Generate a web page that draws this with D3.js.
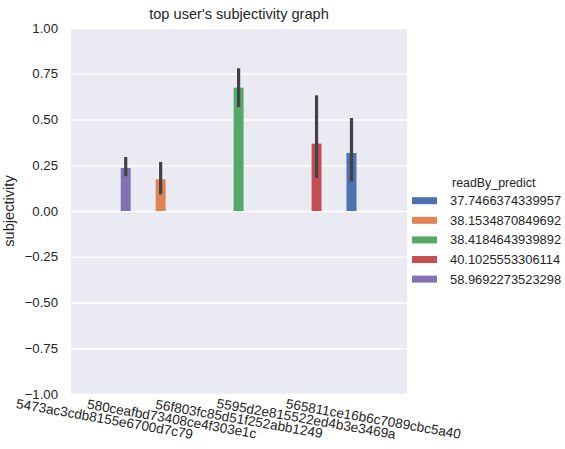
<!DOCTYPE html>
<html>
<head>
<meta charset="utf-8">
<script src="https://cdn.jsdelivr.net/npm/d3@7"></script>
<style>
  html, body { margin: 0; padding: 0; background: #ffffff; }
  svg { display: block; }
  text { font-family: "Liberation Sans", Arial, sans-serif; fill: #262626; }
</style>
</head>
<body>
<svg id="chart" width="565" height="449"></svg>
<script>
// User ids along the x axis
const users = [
  "5473ac3cdb8155e6700d7c79",
  "580ceafbd73408ce4f303e1c",
  "56f803fc85d51f252abb1249",
  "5595d2e815522ed4b3e3469a",
  "565811ce16b6c7089cbc5a40"
];
// Hue levels (readBy_predict), in legend order
const readByLevels = [
  "37.7466374339957",
  "38.1534870849692",
  "38.4184643939892",
  "40.1025553306114",
  "58.9692273523298"
];
// Each user's readBy_predict level
const userReadBy = [
  "58.9692273523298",
  "38.1534870849692",
  "38.4184643939892",
  "40.1025553306114",
  "37.7466374339957"
];
// Mean subjectivity and confidence interval per user
const meanSubjectivity = [0.235, 0.173, 0.674, 0.368, 0.317];
const ciLow  = [0.190, 0.091, 0.568, 0.180, 0.162];
const ciHigh = [0.295, 0.268, 0.780, 0.632, 0.508];
const yTicks = [-1, -0.75, -0.5, -0.25, 0, 0.25, 0.5, 0.75, 1];

const palette = ["#4c72b0", "#dd8452", "#55a868", "#c44e52", "#8172b3"];

const svg = d3.select("#chart");
const plot = { left: 71, right: 407, top: 28, bottom: 394 };

const x = d3.scaleBand()
  .domain(users)
  .range([plot.left, plot.right])
  .paddingInner(0.2)
  .paddingOuter(0.1);
const xHue = d3.scaleBand()
  .domain(readByLevels)
  .range([0, x.bandwidth()]);
const y = d3.scaleLinear().domain([-1, 1]).range([plot.bottom, plot.top]);
const color = d3.scaleOrdinal().domain(readByLevels).range(palette);

// Axes background
svg.append("rect")
  .attr("x", plot.left).attr("y", plot.top)
  .attr("width", plot.right - plot.left)
  .attr("height", plot.bottom - plot.top)
  .attr("fill", "#eaeaf2");

// Horizontal grid
svg.append("g")
  .attr("transform", `translate(${plot.left},0)`)
  .call(d3.axisLeft(y).tickValues(yTicks).tickSize(-(plot.right - plot.left)).tickFormat(""))
  .call(g => g.select(".domain").remove())
  .call(g => g.selectAll("line").attr("stroke", "#ffffff").attr("stroke-width", 1.3));

// Y tick labels
svg.append("g")
  .attr("transform", `translate(${plot.left},0)`)
  .call(d3.axisLeft(y).tickValues(yTicks).tickSize(0).tickPadding(13)
    .tickFormat(d => d3.format(".2f")(d).replace("-", "\u2212")))
  .call(g => g.select(".domain").remove())
  .call(g => g.selectAll("text")
    .attr("font-size", "13.2px")
    .attr("fill", "#262626")
    .style("font-family", "'Liberation Sans', Arial, sans-serif"));

// X tick labels, tilted
const xAxis = svg.append("g")
  .attr("transform", `translate(0,${plot.bottom})`)
  .call(d3.axisBottom(x).tickSize(0).tickFormat(""))
  .call(g => g.select(".domain").remove());
xAxis.selectAll(".tick").append("text")
  .attr("text-anchor", "middle")
  .attr("dominant-baseline", "central")
  .attr("transform", "translate(0,25) rotate(10)")
  .attr("font-size", "13.6px")
  .attr("fill", "#262626")
  .style("font-family", "'Liberation Sans', Arial, sans-serif")
  .text(d => d);

// Bars
const data = users.map((u, i) => ({
  user: u, level: userReadBy[i], mean: meanSubjectivity[i], lo: ciLow[i], hi: ciHigh[i]
}));
svg.append("g").selectAll("rect")
  .data(data).join("rect")
  .attr("x", d => x(d.user) + xHue(d.level))
  .attr("width", xHue.bandwidth() - 0.8)
  .attr("y", d => y(Math.max(0, d.mean)))
  .attr("height", d => Math.abs(y(d.mean) - y(0)))
  .attr("fill", d => color(d.level));

// Confidence interval lines
svg.append("g").selectAll("line")
  .data(data).join("line")
  .attr("x1", d => x(d.user) + xHue(d.level) + (xHue.bandwidth() - 0.8) / 2)
  .attr("x2", d => x(d.user) + xHue(d.level) + (xHue.bandwidth() - 0.8) / 2)
  .attr("y1", d => y(d.lo))
  .attr("y2", d => y(d.hi))
  .attr("stroke", "#424242")
  .attr("stroke-width", 3.2);

// Title and axis label
svg.append("text")
  .attr("x", (plot.left + plot.right) / 2).attr("y", 19)
  .attr("text-anchor", "middle")
  .attr("font-size", "14.6px")
  .text("top user's subjectivity graph");

svg.append("text")
  .attr("transform", `translate(14,${(plot.top + plot.bottom) / 2}) rotate(-90)`)
  .attr("text-anchor", "middle")
  .attr("font-size", "14.6px")
  .text("subjectivity");

// Legend
const legend = svg.append("g");
legend.append("text")
  .attr("x", 452).attr("y", 183)
  .attr("dominant-baseline", "central")
  .attr("font-size", "12.4px")
  .text("readBy_predict");
const rows = legend.selectAll("g.row")
  .data(readByLevels).join("g")
  .attr("class", "row")
  .attr("transform", (d, i) => `translate(0,${200.7 + i * 19.6})`);
rows.append("rect")
  .attr("x", 412).attr("y", -3.5)
  .attr("width", 25).attr("height", 7)
  .attr("fill", d => color(d));
rows.append("text")
  .attr("x", 450).attr("y", 0)
  .attr("dominant-baseline", "central")
  .attr("font-size", "12.9px")
  .text(d => d);
</script>
</body>
</html>
